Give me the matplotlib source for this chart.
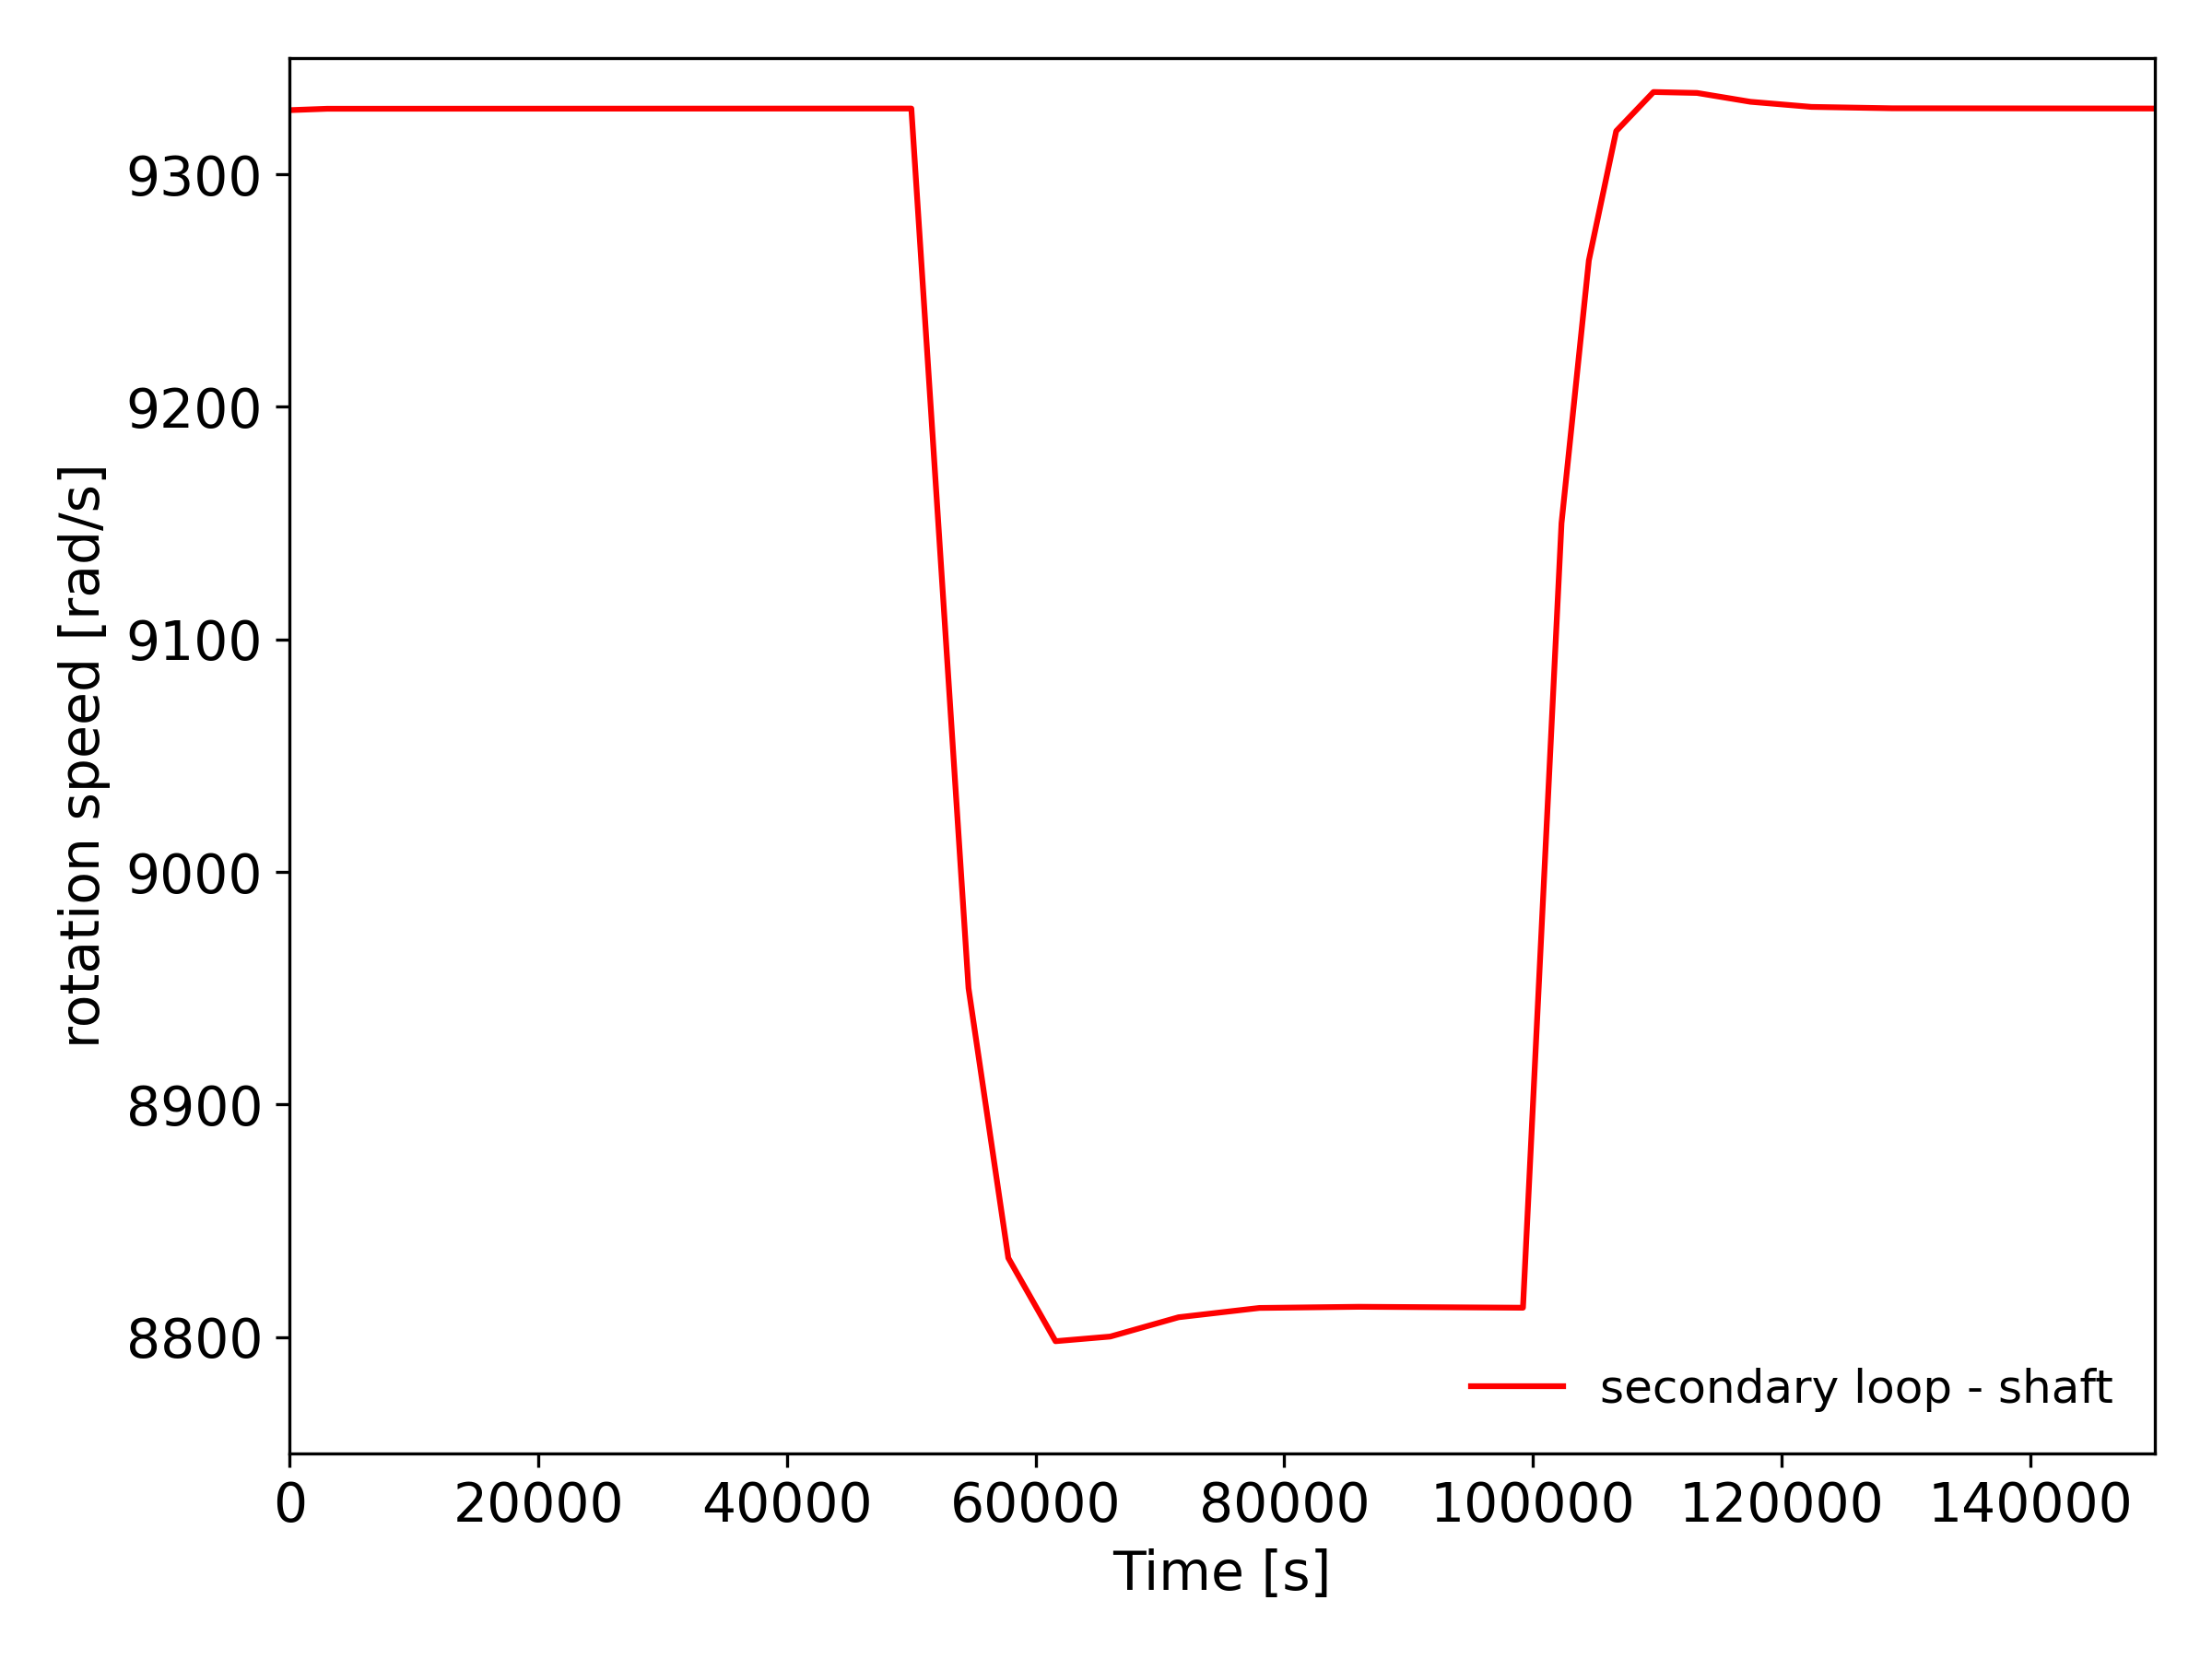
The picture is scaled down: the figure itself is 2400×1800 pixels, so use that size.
import matplotlib
matplotlib.use("Agg")
import matplotlib.pyplot as plt

# cas [s] a otacky hriadela [rad/s]
time_s = [0, 3000, 50000, 54600, 57800, 61600, 66000, 71500, 78000,
          86000, 99200, 102300, 104500, 106700, 109700, 113200,
          117500, 122400, 128900, 150000]
speed = [9327.6, 9328.2, 9328.3, 8950.0, 8834.0, 8798.2, 8800.2, 8808.5, 8812.5,
         8813.0, 8812.6, 9150.0, 9263.0, 9318.6, 9335.4, 9335.0,
         9331.2, 9329.0, 9328.4, 9328.3]

fig, ax = plt.subplots(figsize=(8, 6), dpi=300)
ax.plot(time_s, speed, color="red", linewidth=1.5, label="secondary loop - shaft")

ax.set_xlim(0, 150000)
ax.set_ylim(8750, 9350)
ax.set_xticks([0, 20000, 40000, 60000, 80000, 100000, 120000, 140000])
ax.set_yticks([8800, 8900, 9000, 9100, 9200, 9300])
ax.tick_params(labelsize=14)
ax.set_xlabel("Time [s]", fontsize=14)
ax.set_ylabel("rotation speed [rad/s]", fontsize=14)
ax.legend(loc="lower right", frameon=False, fontsize=12)

plt.subplots_adjust(left=0.131, right=0.974, top=0.965, bottom=0.124)
plt.savefig("out.png", dpi=300)
